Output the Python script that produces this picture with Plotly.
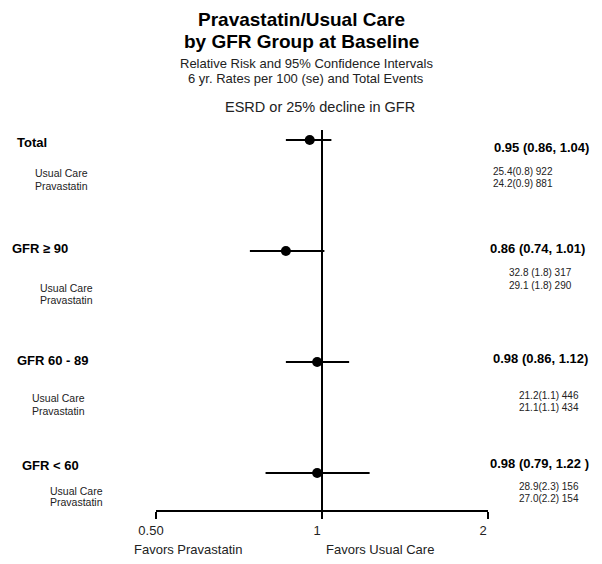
import plotly.graph_objects as go
import math

# ---- data ----
groups = ["Total", "GFR ≥ 90", "GFR 60 - 89", "GFR < 60"]
rr = [0.95, 0.86, 0.98, 0.98]
ci_lo = [0.86, 0.74, 0.86, 0.79]
ci_hi = [1.04, 1.01, 1.12, 1.22]
rr_text = ["0.95 (0.86, 1.04)", "0.86 (0.74, 1.01)", "0.98 (0.86, 1.12)", "0.98 (0.79, 1.22 )"]
usual_care_rates = ["25.4(0.8) 922", "32.8 (1.8) 317", "21.2(1.1) 446", "28.9(2.3) 156"]
pravastatin_rates = ["24.2(0.9) 881", "29.1 (1.8) 290", "21.1(1.1) 434", "27.0(2.2) 154"]
tick_vals = [0.5, 1, 2]
tick_text = ["0.50", "1", "2"]
rows = [1, 2, 3, 4]

# ---- layout helpers (page pixel positions; page body has an 8px margin) ----
W, H = 602, 564
OFF = 8
PLOT_TOP, PLOT_BOT = 130, 510   # page pixels
def xp(px):
    return (px - OFF) / W
def yp(py):
    return (PLOT_BOT - py) / (PLOT_BOT - PLOT_TOP)

FONT = "Liberation Sans, Arial, sans-serif"
TXT = "#222222"

fig = go.Figure()

# CI lines
xs, ys = [], []
for r, lo, hi in zip(rows, ci_lo, ci_hi):
    xs += [lo, hi, None]
    ys += [r, r, None]
fig.add_trace(go.Scatter(x=xs, y=ys, mode="lines", line=dict(color="black", width=2),
                         hoverinfo="skip", showlegend=False))
# point estimates
fig.add_trace(go.Scatter(x=rr, y=rows, mode="markers",
                         marker=dict(color="black", size=10, symbol="circle"),
                         showlegend=False))

# reference line at 1
fig.add_shape(type="line", xref="x", yref="paper", x0=1, x1=1, y0=0, y1=1,
              line=dict(color="black", width=2))

ann = []
left_x = [15, 10, 15, 20]
left_dy = [-2, 3, 2, 8]
sub_x = [33, 38, 30, 48]
sub_dy = [(-33, -46), (-37, -49), (-36, -49), (-18, -29)]
right_x = [492, 488, 491, 488]
right_dy = [-7, 3, 4, 10]
rate_x = [491, 507, 517, 517]
rate_dy = [(-31, -43), (-21, -34), (-33, -45), (-13, -25)]

def add(x, y, text, size, color, yref="paper", yshift=0, xanchor="center", bold=False, family=FONT):
    ann.append(dict(x=x, y=y, xref="paper", yref=yref, yshift=yshift,
                    text=("<b>%s</b>" % text) if bold else text, showarrow=False,
                    xanchor=xanchor, yanchor="middle",
                    font=dict(size=size, color=color, family=family)))

for i, r in enumerate(rows):
    add(xp(left_x[i]), r, groups[i], 13, "black", "y", left_dy[i], "left", True)
    add(xp(sub_x[i]), r, "Usual Care", 10.5, TXT, "y", sub_dy[i][0], "left")
    add(xp(sub_x[i]), r, "Pravastatin", 10.5, TXT, "y", sub_dy[i][1], "left")
    add(xp(right_x[i]), r, rr_text[i], 13, "black", "y", right_dy[i], "left", True)
    add(xp(rate_x[i]), r, usual_care_rates[i], 10, TXT, "y", rate_dy[i][0], "left")
    add(xp(rate_x[i]), r, pravastatin_rates[i], 10, TXT, "y", rate_dy[i][1], "left")

# titles
add(xp(301), yp(19), "Pravastatin/Usual Care", 19, "black", bold=True)
add(xp(301), yp(42), "by GFR Group at Baseline", 19, "black", bold=True)
add(xp(306), yp(64), "Relative Risk and 95% Confidence Intervals", 13, TXT)
add(xp(306), yp(79), "6 yr. Rates per 100 (se) and Total Events", 13, TXT)
add(xp(320), yp(107), "ESRD or 25% decline in GFR", 14.5, TXT)
add(xp(188), yp(549), "Favors Pravastatin", 13, TXT)
add(xp(380), yp(549), "Favors Usual Care", 13, TXT)

fig.update_layout(
    width=W, height=H,
    margin=dict(l=0, r=0, t=PLOT_TOP - OFF, b=H - (PLOT_BOT - OFF), pad=0, autoexpand=False),
    paper_bgcolor="white", plot_bgcolor="white",
    annotations=ann,
    xaxis=dict(type="log", domain=[xp(156), xp(488)],
               range=[math.log10(0.5), math.log10(2)],
               showgrid=False, zeroline=False, showline=True, linecolor="black", linewidth=2,
               ticks="outside", ticklen=7, tickwidth=2, tickcolor="black",
               tickvals=tick_vals, ticktext=tick_text, automargin=False,
               ticklabelshift=-5,
               tickfont=dict(size=13, color=TXT, family=FONT)),
    yaxis=dict(range=[4 + 37 / 111, 1 - 10 / 111], showgrid=False, zeroline=False,
               showline=False, showticklabels=False, ticks="", automargin=False),
)

fig.write_html("out.html")
